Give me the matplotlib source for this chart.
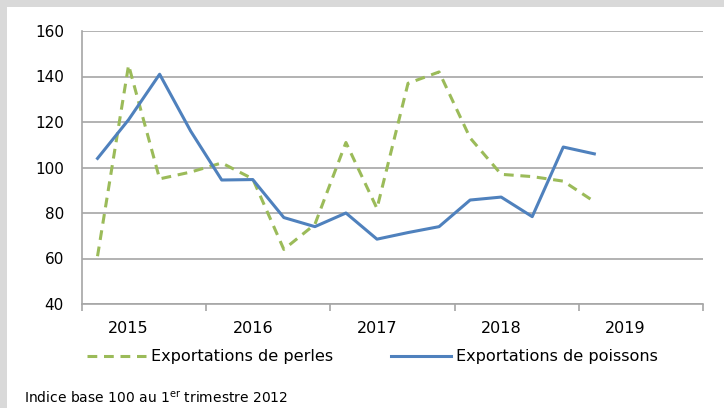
#!/usr/bin/env python3

import matplotlib
matplotlib.use("Agg")
import matplotlib.pyplot as plt
from matplotlib.patches import Rectangle

# quarterly values, 2015 Q1 -> 2019 Q1
years = ["2015", "2016", "2017", "2018", "2019"]
perles = [61, 145, 95, 98, 102, 95, 64, 75, 111, 82, 137, 142, 113, 97, 96, 94, 85]
poissons = [104, 121, 141, 116, 94.5, 94.7, 78, 74, 80, 68.5, 71.4, 74, 85.7, 87, 78.4, 109, 106]

GREEN = "#9bbb59"
BLUE = "#4f81bd"
GRID = "#a6a6a6"


def main():
    plt.rcParams["font.family"] = ["DejaVu Sans"]
    fig = plt.figure(figsize=(7.24, 4.08), dpi=100, facecolor="#d9d9d9")
    fig.add_artist(Rectangle((7 / 724, 0), 1, 1 - 7 / 408, transform=fig.transFigure,
                             facecolor="white", edgecolor="none", zorder=-1))

    ax = fig.add_axes([82 / 724, 1 - 304 / 408, (703 - 82) / 724, (304 - 31) / 408])
    ax.set_facecolor("white")

    xs = [i + 0.5 for i in range(len(perles))]
    ax.plot(xs, perles, color=GREEN, lw=2.2, dashes=(3.2, 2.2),
            label="Exportations de perles", zorder=3)
    ax.plot(xs, poissons, color=BLUE, lw=2.2, label="Exportations de poissons", zorder=4)

    ax.set_xlim(0, 4 * len(years))
    ax.set_ylim(40, 160)
    ax.set_yticks(range(40, 161, 20))
    ax.yaxis.grid(True, color=GRID, lw=1.2)
    ax.set_axisbelow(True)
    ax.tick_params(axis="y", length=0, labelsize=11, pad=13, colors="black")

    # year boundaries as ticks, year labels under the 2nd quarter
    ax.set_xticks(range(0, 4 * len(years) + 1, 4))
    ax.set_xticklabels([])
    ax.set_xticks([4 * i + 1.5 for i in range(len(years))], minor=True)
    ax.set_xticklabels(years, minor=True)
    ax.tick_params(axis="x", which="major", length=5, color=GRID, width=1.2)
    ax.tick_params(axis="x", which="minor", length=0, labelsize=11.5, pad=12)

    for side in ("top", "right"):
        ax.spines[side].set_visible(False)
    for side in ("left", "bottom"):
        ax.spines[side].set_color(GRID)
        ax.spines[side].set_linewidth(1.2)

    fig.legend(loc="center", bbox_to_anchor=(372 / 724, 1 - 357 / 408), ncol=2, frameon=False,
               fontsize=11.6, handlelength=3.7, handletextpad=0.3, columnspacing=3.6)

    fig.text(24 / 724, 1 - 398 / 408, r"Indice base 100 au 1$^{\mathrm{er}}$ trimestre 2012",
             fontsize=10, va="center", ha="left")

    fig.savefig("out.png", dpi=100, facecolor=fig.get_facecolor())
    plt.close(fig)


if __name__ == "__main__":
    main()
